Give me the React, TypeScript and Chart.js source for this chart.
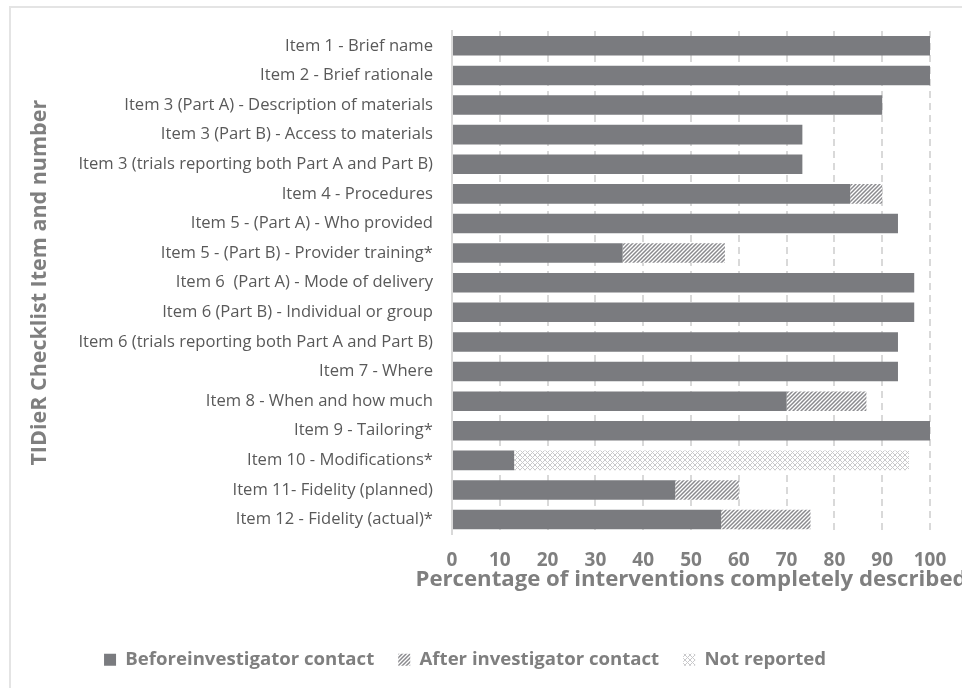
import React, { useEffect, useRef } from "react";
import { Chart, registerables } from "chart.js";

Chart.register(...registerables);

const categories = [
  "Item 1 - Brief name",
  "Item 2 - Brief rationale",
  "Item 3 (Part A) - Description of materials",
  "Item 3 (Part B) - Access to materials",
  "Item 3 (trials reporting both Part A and Part B)",
  "Item 4 - Procedures",
  "Item 5 - (Part A) - Who provided",
  "Item 5 - (Part B) - Provider training*",
  "Item 6  (Part A) - Mode of delivery",
  "Item 6 (Part B) - Individual or group",
  "Item 6 (trials reporting both Part A and Part B)",
  "Item 7 - Where",
  "Item 8 - When and how much",
  "Item 9 - Tailoring*",
  "Item 10 - Modifications*",
  "Item 11- Fidelity (planned)",
  "Item 12 - Fidelity (actual)*",
];

const beforeContact = [100, 100, 90, 73.3, 73.3, 83.3, 93.3, 35.7, 96.7, 96.7, 93.3, 93.3, 70, 100, 13.0, 46.7, 56.3];
const afterContact = [0, 0, 0, 0, 0, 6.7, 0, 21.4, 0, 0, 0, 0, 16.7, 0, 0, 13.3, 18.7];
const notReported = [0, 0, 0, 0, 0, 0, 0, 0, 0, 0, 0, 0, 0, 0, 82.6, 0, 0];

const seriesLabels = ["Beforeinvestigator contact", "After investigator contact", "Not reported"];
const xAxisTitle = "Percentage of interventions completely described";
const yAxisTitle = "TIDieR Checklist Item and number";

const FONT = "'Open Sans', Lato, sans-serif";

function stripePattern(): CanvasPattern | string {
  const c = document.createElement("canvas");
  c.width = 4;
  c.height = 4;
  const g = c.getContext("2d");
  if (!g) return "#999";
  g.fillStyle = "#ffffff";
  g.fillRect(0, 0, 4, 4);
  g.strokeStyle = "#8a8a8e";
  g.lineWidth = 1.5;
  g.beginPath();
  g.moveTo(-1, 1);
  g.lineTo(1, -1);
  g.moveTo(0, 4);
  g.lineTo(4, 0);
  g.moveTo(3, 5);
  g.lineTo(5, 3);
  g.stroke();
  return g.createPattern(c, "repeat") || "#999";
}

function crossPattern(): CanvasPattern | string {
  const c = document.createElement("canvas");
  c.width = 5;
  c.height = 5;
  const g = c.getContext("2d");
  if (!g) return "#ddd";
  g.fillStyle = "#ffffff";
  g.fillRect(0, 0, 5, 5);
  g.strokeStyle = "#c9c9cb";
  g.lineWidth = 1;
  g.beginPath();
  g.moveTo(0, 0);
  g.lineTo(5, 5);
  g.moveTo(5, 0);
  g.lineTo(0, 5);
  g.stroke();
  return g.createPattern(c, "repeat") || "#ddd";
}

const xTitlePlugin = {
  id: "xTitleWide",
  afterDraw(chart: any) {
    const { ctx, chartArea } = chart;
    ctx.save();
    ctx.font = `bold 22.2px ${FONT}`;
    ctx.fillStyle = "#7f7f7f";
    ctx.textAlign = "center";
    ctx.textBaseline = "alphabetic";
    ctx.fillText(xAxisTitle, (chartArea.left + chartArea.right) / 2, chartArea.bottom + 52);
    ctx.restore();
  },
};

export default function App() {
  const ref = useRef<HTMLCanvasElement | null>(null);

  useEffect(() => {
    if (!ref.current) return;
    const stripes = stripePattern();
    const cross = crossPattern();
    const chart = new Chart(ref.current, {
      type: "bar",
      data: {
        labels: categories,
        datasets: [
          { label: seriesLabels[0], data: beforeContact, backgroundColor: "#7a7b7f", borderWidth: 0 },
          { label: seriesLabels[1], data: afterContact, backgroundColor: stripes as any, borderWidth: 0 },
          { label: seriesLabels[2], data: notReported, backgroundColor: cross as any, borderWidth: 0 },
        ],
      },
      plugins: [xTitlePlugin],
      options: {
        indexAxis: "y",
        animation: false,
        responsive: false,
        maintainAspectRatio: false,
        devicePixelRatio: 1,
        datasets: { bar: { barPercentage: 0.66, categoryPercentage: 1 } },
        layout: { padding: { top: 31, right: 32, left: 0, bottom: 9 } },
        scales: {
          x: {
            stacked: true,
            min: 0,
            max: 100,
            ticks: {
              stepSize: 10,
              color: "#7f7f7f",
              font: { family: FONT, size: 19, weight: "bold" },
              padding: 15,
            },
            grid: { color: "#d9d9d9", lineWidth: 2, drawTicks: false },
            border: { display: false, dash: [7, 5] },
            title: { display: false },
            afterFit: (s: any) => {
              s.height = 92;
            },
          },
          y: {
            stacked: true,
            ticks: {
              autoSkip: false,
              color: "#595959",
              font: { family: FONT, size: 16.6 },
              padding: 19,
            },
            grid: { display: false, drawTicks: false },
            border: { display: true, color: "#d9d9d9", width: 2 },
            title: {
              display: true,
              text: yAxisTitle,
              color: "#7f7f7f",
              font: { family: FONT, size: 21.5, weight: "bold" },
              padding: { top: 27, bottom: 0 },
            },
            afterFit: (s: any) => {
              s.width = 452;
            },
          },
        },
        plugins: {
          legend: {
            position: "bottom",
            labels: {
              boxWidth: 12,
              boxHeight: 12,
              padding: 24,
              color: "#7f7f7f",
              font: { family: FONT, size: 18.6, weight: "bold" },
            },
          },
          tooltip: { enabled: false },
        },
      },
    });
    return () => chart.destroy();
  }, []);

  return (
    <div style={{ position: "absolute", left: 0, top: 0, width: 962, height: 688, overflow: "hidden", background: "#fff" }}>
      <div
        style={{
          position: "absolute",
          left: 9,
          top: 6,
          width: 1000,
          height: 1000,
          border: "2px solid #e4e4e4",
          boxSizing: "border-box",
        }}
      />
      <canvas ref={ref} width={962} height={688} style={{ position: "absolute", left: 0, top: 0, width: 962, height: 688 }} />
    </div>
  );
}
